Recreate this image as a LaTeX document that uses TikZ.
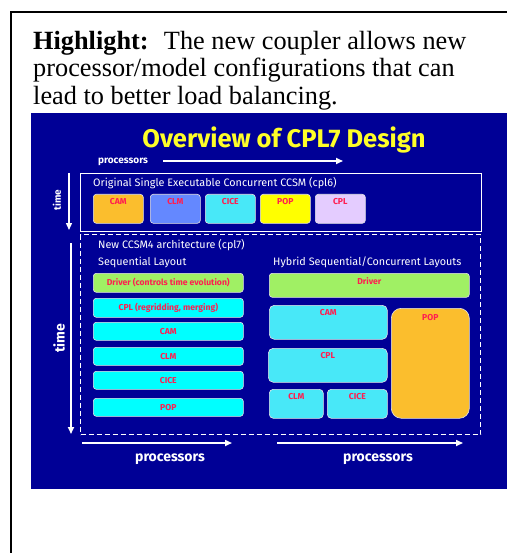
\documentclass[tikz,border=0pt]{standalone}
\usepackage{fontspec}
\setmainfont{Liberation Serif}
\newfontfamily\slidefont{Fira Sans}
\usetikzlibrary{arrows.meta}

\definecolor{slideblue}{RGB}{0,0,150}
\definecolor{camorange}{RGB}{251,190,45}
\definecolor{clmblue}{RGB}{100,136,255}
\definecolor{icecyan}{RGB}{72,232,248}
\definecolor{popyellow}{RGB}{255,255,0}
\definecolor{cpllilac}{RGB}{228,204,255}
\definecolor{drvgreen}{RGB}{160,240,100}
\definecolor{seqcyan}{RGB}{0,255,255}
\definecolor{labred}{RGB}{255,30,80}
\definecolor{slideyellow}{RGB}{255,255,40}

\begin{document}
\begin{tikzpicture}[x=1pt,y=-1pt,
                >={Triangle[length=7pt,width=6pt]},
                lab/.style={text=labred,font=\slidefont\bfseries\fontsize{8.6}{9}\selectfont,inner sep=1pt},
                box/.style={draw=white!80!gray,line width=0.6pt,rounded corners=3pt,anchor=north west,inner sep=0pt,lab},
                toplab/.style={label={[lab,anchor=north,yshift=-3pt]north:#1}},
                plain/.style={text=white,font=\slidefont\fontsize{10.8}{12}\selectfont,anchor=west,inner sep=0pt},
                axis/.style={text=white,font=\slidefont\bfseries\fontsize{14}{15}\selectfont,inner sep=0pt},
                arr/.style={->,white,line width=1.6pt}
                ]
            \useasboundingbox (0,0) rectangle (507,553);
            \draw[line width=2pt] (11,553) -- (11,12) -- (507,12);

            \node[anchor=north west,align=left,inner sep=0pt,font=\fontsize{26.3}{27.5}\selectfont] (highlight) at (33,31)
                {\textbf{Highlight:}~ The new coupler allows new\\processor/model configurations that can\\lead to better load balancing.};

            \fill[slideblue] (31,113) rectangle (507,489);

            \node[text=slideyellow,font=\slidefont\bfseries\fontsize{25.5}{28}\selectfont] (title) at (284,140) {Overview of CPL7 Design};

            % cpl6
            \node[text=white,font=\slidefont\bfseries\fontsize{10}{11}\selectfont,anchor=west,inner sep=0pt] (proctop) at (98,162) {processors};
            \coordinate (pa) at (163,161);
            \coordinate (pb) at (343,161);
            \draw[arr] (pa) -- (pb);

            \node[draw=white,line width=1.2pt,minimum width=401,minimum height=58,anchor=north west,inner sep=0pt] (cpl6) at (80,173) {};
            \node[plain] (cpl6txt) at (93,183) {Original Single Executable Concurrent CCSM (cpl6)};

            \node[box,fill=camorange,minimum width=50,minimum height=29,toplab=CAM] (cam6) at (93,194) {};
            \node[box,fill=clmblue,minimum width=50,minimum height=29,toplab=CLM] (clm6) at (150,194) {};
            \node[box,fill=icecyan,minimum width=50,minimum height=29,toplab=CICE] (cice6) at (205,194) {};
            \node[box,fill=popyellow,minimum width=50,minimum height=29,toplab=POP] (pop6) at (260,194) {};
            \node[box,fill=cpllilac,minimum width=50,minimum height=29,toplab=CPL] (cplb6) at (315,194) {};

            \coordinate (ta) at (69,173);
            \coordinate (tb) at (69,230);
            \draw[arr,line width=1.4pt] (ta) -- (tb);
            \node[text=white,font=\slidefont\bfseries\fontsize{10}{11}\selectfont,rotate=90,inner sep=0pt] (timetop) at (57,200) {time};

            % cpl7
            \node[draw=white,dashed,dash pattern=on 5pt off 3pt,line width=1.2pt,minimum width=400,minimum height=200,anchor=north west,inner sep=0pt] (cpl7) at (80,234) {};
            \node[plain] (cpl7txt) at (98,245) {New CCSM4 architecture (cpl7)};
            \node[plain] (seqtxt) at (98,262) {Sequential Layout};
            \node[plain] (hybtxt) at (273,262) {Hybrid Sequential/Concurrent Layouts};

            \node[box,fill=drvgreen,minimum width=150,minimum height=19] (drvs) at (93,273) {Driver (controls time evolution)};
            \node[box,fill=seqcyan,minimum width=150,minimum height=19] (cpls) at (93,298) {CPL (regridding, merging)};
            \node[box,fill=seqcyan,minimum width=150,minimum height=18] (cams) at (93,322) {CAM};
            \node[box,fill=seqcyan,minimum width=150,minimum height=18] (clms) at (93,347) {CLM};
            \node[box,fill=seqcyan,minimum width=150,minimum height=18] (cices) at (93,371) {CICE};
            \node[box,fill=seqcyan,minimum width=150,minimum height=18] (pops) at (93,398) {POP};

            \node[box,fill=drvgreen,minimum width=200,minimum height=24,toplab=Driver] (drvh) at (269,273) {};
            \node[box,fill=icecyan,rounded corners=5pt,minimum width=118,minimum height=34,toplab=CAM] (camh) at (269,305) {};
            \node[box,fill=icecyan,rounded corners=5pt,minimum width=119,minimum height=34,toplab=CPL] (cplh) at (268,348) {};
            \node[box,fill=icecyan,rounded corners=4pt,minimum width=54,minimum height=29,toplab=CLM] (clmh) at (269,389) {};
            \node[box,fill=icecyan,rounded corners=4pt,minimum width=60,minimum height=29,toplab=CICE] (ciceh) at (327,389) {};
            \node[box,fill=camorange,rounded corners=10pt,minimum width=78,minimum height=110,label={[lab,anchor=north,yshift=-5pt]north:POP}] (poph) at (391,308) {};

            \coordinate (tc) at (71,243);
            \coordinate (td) at (71,434);
            \draw[arr] (tc) -- (td);
            \node[axis,rotate=90] (timebig) at (59,338) {time};

            \coordinate (pc) at (82,443);
            \coordinate (pd) at (232,443);
            \draw[arr] (pc) -- (pd);
            \node[axis] (procseq) at (170,459) {processors};
            \coordinate (pe) at (277,443);
            \coordinate (pf) at (463,443);
            \draw[arr] (pe) -- (pf);
            \node[axis] (prochyb) at (378,459) {processors};

            \end{tikzpicture}
\end{document}
